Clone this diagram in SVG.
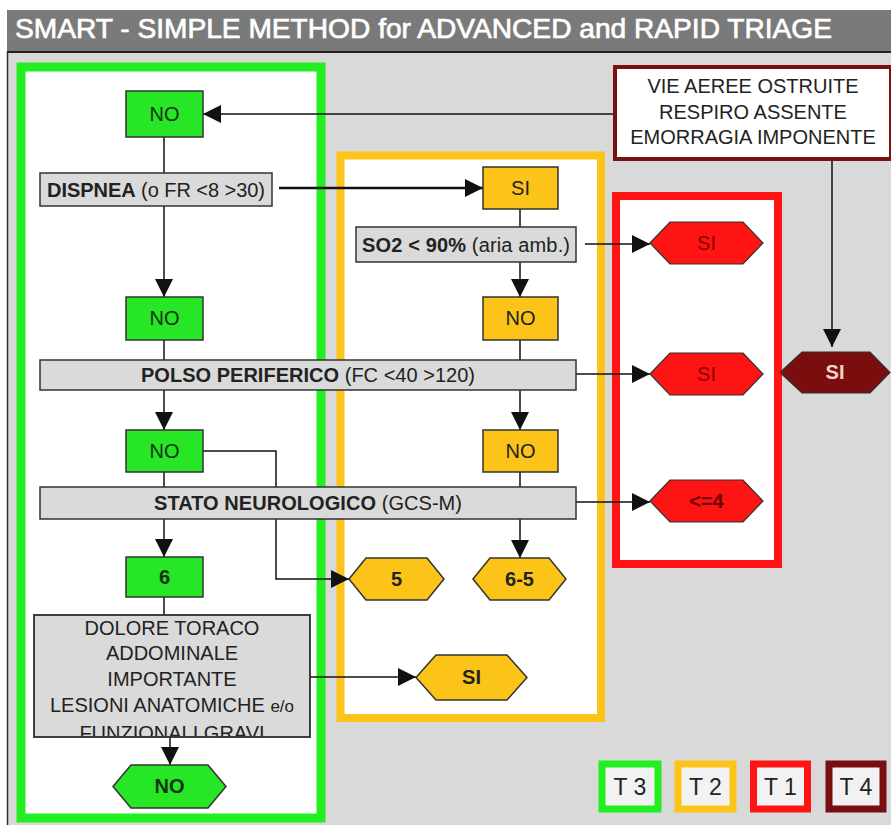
<svg xmlns="http://www.w3.org/2000/svg" width="891" height="825" viewBox="0 0 891 825">
<defs>
<style>
text{font-family:"Liberation Sans",Arial,sans-serif;fill:#222;}
.lbl{font-size:20px;text-anchor:middle;}
.b{font-weight:bold;}
.gbox{fill:#26e626;stroke:#333;stroke-width:1.5;}
.ybox{fill:#fcc418;stroke:#333;stroke-width:1.5;}
.rhex{fill:#ff1414;stroke:#333;stroke-width:1.2;}
.dhex{fill:#7a0e0e;stroke:#333;stroke-width:1.2;}
.q{fill:#dadada;stroke:#333;stroke-width:1.5;}
.conn line,.conn polyline{stroke:#111;stroke-width:1.5;fill:none;}
.leg{fill:#f2f2f2;stroke-width:7;}
.legt{font-size:23px;text-anchor:middle;fill:#222;}
</style>
<marker id="ah" markerUnits="userSpaceOnUse" markerWidth="18" markerHeight="18" refX="18" refY="9" orient="auto">
<path d="M0,0 L18,9 L0,18 z" fill="#111"/>
</marker>
<clipPath id="clipDol"><rect x="34" y="615" width="276" height="122"/></clipPath>
</defs>

<!-- background -->
<rect x="0" y="0" width="891" height="825" fill="#ffffff"/>
<rect x="7" y="52" width="884" height="773" fill="#d9d9d9"/>
<line x1="7.5" y1="52" x2="7.5" y2="825" stroke="#333" stroke-width="1.5"/>
<g id="title">
<rect x="7" y="10" width="884" height="42" fill="#7a7a7a"/>
<line x1="7" y1="52" x2="891" y2="52" stroke="#222" stroke-width="2"/>
<text x="15" y="38" font-size="28" style="fill:#fff;stroke:#fff;stroke-width:0.7" textLength="817" lengthAdjust="spacingAndGlyphs">SMART - SIMPLE METHOD for ADVANCED and RAPID TRIAGE</text>
</g>

<!-- zones -->
<g id="zone-green"><rect x="21" y="67" width="300" height="751" fill="#ffffff" stroke="#22ee22" stroke-width="9"/></g>
<g id="zone-yellow"><rect x="340.5" y="155.5" width="260.5" height="562.5" fill="#ffffff" stroke="#fcc418" stroke-width="8"/></g>
<g id="zone-red"><rect x="616" y="196" width="162" height="368" fill="#ffffff" stroke="#ff1414" stroke-width="8"/></g>

<!-- connectors -->
<g id="connectors" class="conn">
<line x1="613" y1="114" x2="203" y2="114" marker-end="url(#ah)"/>
<line x1="164" y1="137" x2="164" y2="173"/>
<line x1="164" y1="206" x2="164" y2="297" marker-end="url(#ah)"/>
<line x1="279" y1="188" x2="483" y2="188" marker-end="url(#ah)" style="stroke-width:2.5"/>
<line x1="520" y1="209" x2="520" y2="227"/>
<line x1="520" y1="262" x2="520" y2="297" marker-end="url(#ah)"/>
<line x1="585" y1="244" x2="650" y2="244" marker-end="url(#ah)"/>
<line x1="164" y1="340" x2="164" y2="360"/>
<line x1="520" y1="340" x2="520" y2="360"/>
<line x1="164" y1="390" x2="164" y2="430" marker-end="url(#ah)"/>
<line x1="520" y1="390" x2="520" y2="430" marker-end="url(#ah)"/>
<line x1="576" y1="374" x2="650" y2="374" marker-end="url(#ah)"/>
<line x1="832" y1="161" x2="832" y2="347" marker-end="url(#ah)"/>
<line x1="164" y1="472" x2="164" y2="487"/>
<line x1="520" y1="472" x2="520" y2="487"/>
<polyline points="203,451 276,451 276,579 349,579" marker-end="url(#ah)"/>
<line x1="164" y1="519" x2="164" y2="557" marker-end="url(#ah)"/>
<line x1="520" y1="519" x2="520" y2="558" marker-end="url(#ah)"/>
<line x1="576" y1="502" x2="650" y2="502" marker-end="url(#ah)"/>
<line x1="164" y1="597" x2="164" y2="615"/>
<line x1="170" y1="737" x2="170" y2="765" marker-end="url(#ah)"/>
<line x1="310" y1="677" x2="416" y2="677" marker-end="url(#ah)"/>
</g>

<!-- nodes -->
<g id="vie">
<rect x="615" y="67" width="276" height="92" fill="#ffffff" stroke="#7a1010" stroke-width="4"/>
<text class="lbl" x="753" y="93">VIE AEREE OSTRUITE</text>
<text class="lbl" x="753" y="119">RESPIRO ASSENTE</text>
<text class="lbl" x="753" y="144">EMORRAGIA IMPONENTE</text>
</g>

<g id="g-no1"><rect class="gbox" x="126" y="91" width="77" height="46"/><text class="lbl" x="164.5" y="121" style="fill:#123312">NO</text></g>
<g id="dispnea"><rect class="q" x="40" y="173" width="232" height="33"/><text class="lbl" x="156" y="197" textLength="218"><tspan class="b">DISPNEA</tspan> (o FR &lt;8 &gt;30)</text></g>
<g id="g-no2"><rect class="gbox" x="126" y="297" width="77" height="43"/><text class="lbl" x="164.5" y="325" style="fill:#123312">NO</text></g>
<g id="polso"><rect class="q" x="40" y="360" width="536" height="30"/><text class="lbl" x="308" y="382" textLength="334"><tspan class="b">POLSO PERIFERICO</tspan> (FC &lt;40 &gt;120)</text></g>
<g id="g-no3"><rect class="gbox" x="126" y="430" width="77" height="42"/><text class="lbl" x="164.5" y="458" style="fill:#123312">NO</text></g>
<g id="stato"><rect class="q" x="40" y="487" width="536" height="32"/><text class="lbl" x="308" y="510" textLength="308"><tspan class="b">STATO NEUROLOGICO</tspan> (GCS-M)</text></g>
<g id="g-6"><rect class="gbox" x="126" y="557" width="77" height="40"/><text class="lbl b" x="164.5" y="584" style="fill:#123312">6</text></g>
<g id="dolore">
<rect class="q" x="34" y="615" width="276" height="122"/>
<g clip-path="url(#clipDol)">
<text class="lbl" x="172" y="635">DOLORE TORACO</text>
<text class="lbl" x="172" y="660">ADDOMINALE</text>
<text class="lbl" x="172" y="686">IMPORTANTE</text>
<text class="lbl" x="172" y="712">LESIONI ANATOMICHE <tspan font-size="17">e/o</tspan></text>
<text class="lbl" x="172" y="740">FUNZIONALI GRAVI</text>
</g>
<rect x="34" y="615" width="276" height="122" fill="none" stroke="#333" stroke-width="1.5"/>
</g>
<g id="g-nohex"><polygon class="gbox" points="113,786.5 131,765 208,765 226,786.5 208,808 131,808"/><text class="lbl b" x="169.5" y="793" style="fill:#123312">NO</text></g>

<g id="y-si"><rect class="ybox" x="483" y="167" width="75" height="42"/><text class="lbl" x="520.5" y="195">SI</text></g>
<g id="so2"><rect class="q" x="356" y="227" width="220" height="35"/><text class="lbl" x="466" y="252" textLength="208"><tspan class="b">SO2 &lt; 90%</tspan> (aria amb.)</text></g>
<g id="y-no1"><rect class="ybox" x="483" y="297" width="75" height="43"/><text class="lbl" x="520.5" y="325">NO</text></g>
<g id="y-no2"><rect class="ybox" x="483" y="430" width="75" height="42"/><text class="lbl" x="520.5" y="458">NO</text></g>
<g id="y-5"><polygon class="ybox" points="349,579 366,558 427,558 444,579 427,600 366,600"/><text class="lbl b" x="396.5" y="586">5</text></g>
<g id="y-65"><polygon class="ybox" points="473,579 490,558 549,558 566,579 549,600 490,600"/><text class="lbl b" x="519.5" y="586">6-5</text></g>
<g id="y-si2"><polygon class="ybox" points="416,677.5 436,655 507,655 527,677.5 507,700 436,700"/><text class="lbl b" x="471.5" y="684">SI</text></g>

<g id="r-si1"><polygon class="rhex" points="650,243 670,222 743,222 763,243 743,264 670,264"/><text class="lbl" x="706.5" y="250" style="fill:#8a0000">SI</text></g>
<g id="r-si2"><polygon class="rhex" points="650,374 670,353 743,353 763,374 743,395 670,395"/><text class="lbl" x="706.5" y="381" style="fill:#8a0000">SI</text></g>
<g id="r-4"><polygon class="rhex" points="650,501 670,480 743,480 763,501 743,522 670,522"/><text class="lbl b" x="706.5" y="508" style="fill:#6a0000">&lt;=4</text></g>
<g id="d-si"><polygon class="dhex" points="780,372.5 802,352 870,352 890,372.5 870,393 802,393"/><text class="lbl b" x="835" y="379" style="fill:#f4d0d0">SI</text></g>

<!-- legend -->
<g id="leg-t3"><rect class="leg" x="602" y="764" width="56" height="45" stroke="#22ee22"/><text class="legt" x="630" y="795">T 3</text></g>
<g id="leg-t2"><rect class="leg" x="678" y="764" width="55" height="45" stroke="#fcc418"/><text class="legt" x="705.5" y="795">T 2</text></g>
<g id="leg-t1"><rect class="leg" x="753.5" y="764" width="54" height="45" stroke="#ff1414"/><text class="legt" x="780.5" y="795">T 1</text></g>
<g id="leg-t4"><rect class="leg" x="829" y="764" width="54" height="45" stroke="#7a0e0e"/><text class="legt" x="856" y="795">T 4</text></g>
</svg>
